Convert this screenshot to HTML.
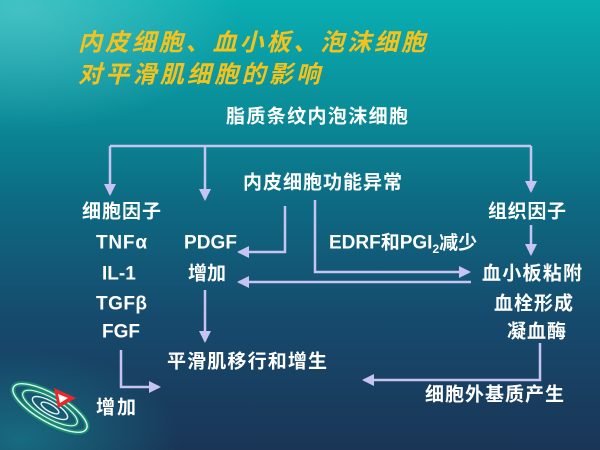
<!DOCTYPE html>
<html><head><meta charset="utf-8"><style>
html,body{margin:0;padding:0;width:600px;height:450px;overflow:hidden;}
body{background:linear-gradient(180deg,#09aeb1 0%,#0a8c98 25%,#0d6a82 45%,#164b6e 70%,#1a3556 100%);position:relative;}
.glow{position:absolute;left:0;top:0;width:600px;height:450px;background:radial-gradient(ellipse 220px 120px at 20px 10px,rgba(140,220,220,0.45),rgba(0,0,0,0));}
.glow2{position:absolute;left:0;top:0;width:600px;height:450px;background:radial-gradient(ellipse 160px 90px at 20px 440px,rgba(20,160,170,0.5),rgba(0,0,0,0));}
svg{position:absolute;left:0;top:0;}
text{font-family:"Liberation Sans","Noto Sans CJK SC",sans-serif;font-weight:bold;fill:#fff;font-size:19px;dominant-baseline:central;}
</style></head><body>
<div class="glow"></div><div class="glow2"></div>
<svg width="600" height="450" viewBox="0 0 600 450">
<defs><marker id="b" markerWidth="12" markerHeight="12" refX="10" refY="6" orient="auto" markerUnits="userSpaceOnUse"><path d="M0,0 L12,6 L0,12 Z" fill="#c8c4f2"/></marker></defs>
<g fill="none" stroke="#c8c4f2" stroke-width="2.5">
<path d="M110,146 H531"/>
<path d="M110,146 V194" marker-end="url(#b)"/>
<path d="M205,146 V199" marker-end="url(#b)"/>
<path d="M531,146 V191" marker-end="url(#b)"/>
<path d="M285,206 V252 H239" marker-end="url(#b)"/>
<path d="M315,200 V272 H469" marker-end="url(#b)"/>
<path d="M531,225 V254" marker-end="url(#b)"/>
<path d="M471,282 H239" marker-end="url(#b)"/>
<path d="M205,290 V341" marker-end="url(#b)"/>
<path d="M121,350 V387 H159" marker-end="url(#b)"/>
<path d="M540,343 V380 H364" marker-end="url(#b)"/>
</g>
<text x="78" y="43" style="font-size:24px;font-style:italic;fill:#f4c21a" textLength="347">内皮细胞、血小板、泡沫细胞</text>
<text x="78" y="75" style="font-size:24px;font-style:italic;fill:#f4c21a" textLength="242">对平滑肌细胞的影响</text>
<text x="226" y="117" textLength="182">脂质条纹内泡沫细胞</text>
<text x="243" y="183" textLength="159">内皮细胞功能异常</text>
<text x="82" y="212" textLength="79">细胞因子</text>
<text x="488" y="212" textLength="78">组织因子</text>
<text x="96" y="243" textLength="51">TNFα</text>
<text x="184" y="243" textLength="53">PDGF</text>
<text x="329" y="243">EDRF和PGI<tspan style="font-size:12px" dy="6">2</tspan><tspan dy="-6">减少</tspan></text>
<text x="102" y="274">IL-1</text>
<text x="188" y="274" textLength="38">增加</text>
<text x="482" y="274" textLength="100">血小板粘附</text>
<text x="96" y="304" textLength="51">TGFβ</text>
<text x="494" y="304" textLength="79">血栓形成</text>
<text x="102" y="332">FGF</text>
<text x="507" y="332" textLength="59">凝血酶</text>
<text x="167" y="362" textLength="160">平滑肌移行和增生</text>
<text x="425" y="395" textLength="139">细胞外基质产生</text>
<text x="96" y="408" textLength="40">增加</text>
<g transform="translate(50,408) rotate(30)" fill="none">
<ellipse rx="42" ry="14" stroke="#1a8a70" stroke-width="5"/>
<ellipse rx="42" ry="14" stroke="#d8f4ec" stroke-width="1.5"/>
<ellipse rx="31" ry="10" stroke="#1a8a70" stroke-width="4"/>
<ellipse rx="31" ry="10" stroke="#d8f4ec" stroke-width="1.2"/>
<ellipse rx="20" ry="6.5" stroke="#d8f4ec" stroke-width="1.5"/>
<ellipse rx="10" ry="3.5" stroke="#d8f4ec" stroke-width="1.5"/>
</g>
<path d="M54,388 L76,398 L58,408 Z" fill="#e8282c"/>
<path d="M58,394 L68,398 L60,403 Z" fill="#fff"/>
</svg>
</body></html>
